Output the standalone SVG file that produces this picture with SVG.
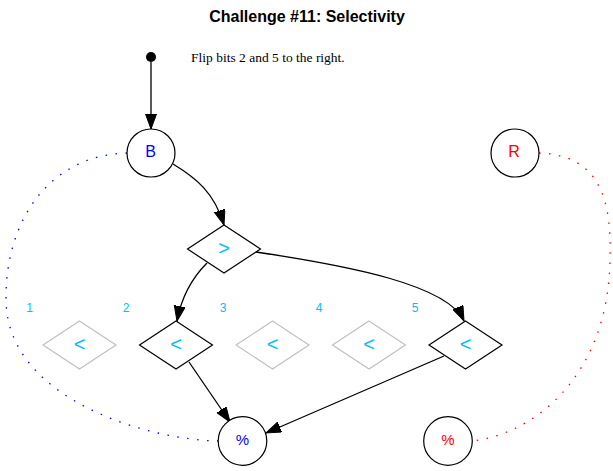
<svg xmlns="http://www.w3.org/2000/svg" width="613" height="471" viewBox="0 0 613 471">
<style>
.title{font-family:"Liberation Sans",Arial,sans-serif;font-size:16px;font-weight:bold;fill:#000;text-anchor:middle}
.note{font-family:"Liberation Serif","Times New Roman",serif;font-size:13.5px;fill:#000}
.lbl{font-family:"Liberation Sans",Arial,sans-serif;font-size:12px;fill:#00bfff;text-anchor:middle}
.sym{font-family:"Liberation Sans",Arial,sans-serif;font-size:20px;fill:#00bfff;text-anchor:middle;dominant-baseline:central}
.ntext{font-family:"Liberation Sans",Arial,sans-serif;font-size:16px;text-anchor:middle;dominant-baseline:central}
.pct{font-family:"Liberation Sans",Arial,sans-serif;font-size:15px;text-anchor:middle;dominant-baseline:central}
.circ{fill:#fff;stroke:#000;stroke-width:1.2}
.dia{fill:#fff;stroke:#000;stroke-width:1.2}
.dia-off{fill:#fff;stroke:#c0c0c0;stroke-width:1.2}
.edge{fill:none;stroke:#000;stroke-width:1.3}
.dotb{fill:none;stroke:#0000ff;stroke-width:1.3;stroke-dasharray:1.5 8.5}
.dotr{fill:none;stroke:#ff0000;stroke-width:1.3;stroke-dasharray:1.5 8.5}
</style>
<defs>
<marker id="arr" markerUnits="userSpaceOnUse" markerWidth="16" markerHeight="12" refX="15" refY="5.5" orient="auto">
<polygon points="0,0 15,5.5 0,11" fill="#000" stroke="#000"/>
</marker>
</defs>
<rect width="613" height="471" fill="#fff"/>
<text class="title" x="307" y="22">Challenge #11: Selectivity</text>
<text class="note" x="191" y="62">Flip bits 2 and 5 to the right.</text>

<g id="connectors">
<path class="edge" d="M151,62 L151,129" marker-end="url(#arr)"/>
<path class="edge" d="M173,164 C196,178 214,192 224,225" marker-end="url(#arr)"/>
<path class="edge" d="M207,263 C194,276 182,294 177,321" marker-end="url(#arr)"/>
<path class="edge" d="M256,252 C350,266 448,285 464,321" marker-end="url(#arr)"/>
<path class="edge" d="M189,362 L230,422" marker-end="url(#arr)"/>
<path class="edge" d="M444,356 L266,433" marker-end="url(#arr)"/>
<path class="dotb" d="M127,153 C50,155 5,220 6,300 C7,400 150,440 218,441"/>
<path class="dotr" d="M539,153 C600,155 612,200 610,260 C608,380 530,435 472,441"/>
</g>

<g id="start"><circle cx="151" cy="57" r="5" fill="#000"/></g>

<g id="nodeB"><circle class="circ" cx="151" cy="153" r="24"/><text class="ntext" x="150.5" y="151" fill="#0000ff">B</text></g>
<g id="nodeR"><circle class="circ" cx="515" cy="153" r="24"/><text class="ntext" x="514" y="151" fill="#ff0000">R</text></g>

<g id="gt"><polygon class="dia" points="224,225 260.5,249 224,273 187.5,249"/><text class="sym" x="224" y="248">&gt;</text></g>

<g id="b1"><polygon class="dia-off" points="79.5,321 116,345 79.5,369 43,345"/><text class="sym" x="79.5" y="344">&lt;</text></g>
<g id="b2"><polygon class="dia" points="176,321 212.5,345 176,369 139.5,345"/><text class="sym" x="176" y="344">&lt;</text></g>
<g id="b3"><polygon class="dia-off" points="272.5,321 309,345 272.5,369 236,345"/><text class="sym" x="272.5" y="344">&lt;</text></g>
<g id="b4"><polygon class="dia-off" points="369,321 405.5,345 369,369 332.5,345"/><text class="sym" x="369" y="344">&lt;</text></g>
<g id="b5"><polygon class="dia" points="465.5,321 502,345 465.5,369 429,345"/><text class="sym" x="465.5" y="344">&lt;</text></g>

<g id="labels">
<text class="lbl" x="29.5" y="312">1</text>
<text class="lbl" x="126" y="312">2</text>
<text class="lbl" x="223" y="312">3</text>
<text class="lbl" x="319" y="312">4</text>
<text class="lbl" x="415" y="312">5</text>
</g>

<g id="pctB"><circle class="circ" cx="242.5" cy="441" r="24.3"/><text class="pct" x="242.5" y="439.5" fill="#0000ff">%</text></g>
<g id="pctR"><circle class="circ" cx="448" cy="441" r="24.3"/><text class="pct" x="448" y="439.5" fill="#ff0000">%</text></g>
</svg>
